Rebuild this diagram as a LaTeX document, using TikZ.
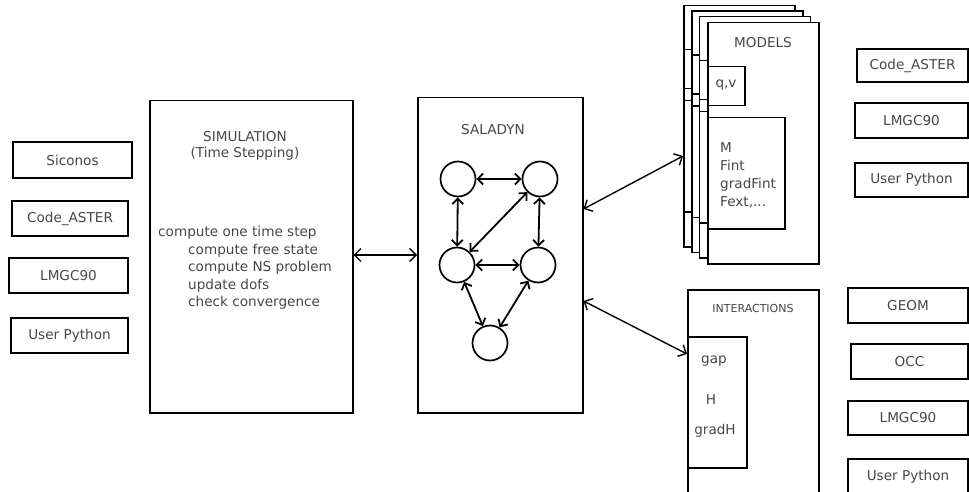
\documentclass[tikz,border=0pt]{standalone}
\usepackage{fontspec}
\setmainfont{DejaVu Sans}
\usetikzlibrary{arrows.meta}
\begin{document}
\begin{tikzpicture}[x=1pt,y=-1pt,
  box/.style={draw, line width=1.5pt, inner sep=0pt, fill=white},
  nwbox/.style={box, anchor=north west},
  lbl/.style={text=black!72, inner sep=0pt, font=\fontsize{13.6}{17.5}\selectfont},
  small/.style={text=black!72, inner sep=0pt, font=\fontsize{11}{13}\selectfont},
  tool/.style={box, lbl},
  dbl/.style={line width=1.4pt, {Straight Barb[length=6.5pt,width=13pt]}-{Straight Barb[length=6.5pt,width=13pt]}},
  gdbl/.style={line width=1.8pt, {Straight Barb[length=5.5pt,width=11pt]}-{Straight Barb[length=5.5pt,width=11pt]}},
  vert/.style={circle, draw, line width=1.7pt, minimum size=35pt, inner sep=0pt}]
\fill[white] (0,0) rectangle (969,492);
\useasboundingbox (0,0) rectangle (969,492);

% left tools
\node[tool, minimum width=119pt, minimum height=36pt] (siconos) at (72.5,160) {Siconos};
\node[tool, minimum width=116pt, minimum height=35pt] (astL) at (70,218.5) {Code\_ASTER};
\node[tool, minimum width=119pt, minimum height=35pt] (lmgcL) at (68.5,275.5) {LMGC90};
\node[tool, minimum width=117pt, minimum height=35pt] (pyL) at (69.5,335.5) {User Python};

% simulation
\node[nwbox, minimum width=203pt, minimum height=312pt] (sim) at (149,100) {};
\node[lbl, align=center, font=\fontsize{13.6}{15.5}\selectfont] (simt) at (245,146) {SIMULATION\\(Time Stepping)};
\node[lbl, align=left, anchor=west] (simlist) at (158,268) {compute one time step\\
\hspace*{30pt}compute free state\\
\hspace*{30pt}compute NS problem\\
\hspace*{30pt}update dofs\\
\hspace*{30pt}check convergence};

% saladyn
\node[nwbox, minimum width=165pt, minimum height=315pt] (sal) at (417,97) {};
\node[lbl] (salt) at (493,130) {SALADYN};
\node[vert] (va) at (458,179) {};
\node[vert] (vb) at (540,179) {};
\node[vert] (vc) at (457,265) {};
\node[vert] (vd) at (538,265) {};
\node[vert] (ve) at (490,343) {};
\draw[gdbl] (va) -- (vb);
\draw[gdbl] (va) -- (vc);
\draw[gdbl] (vb) -- (vd);
\draw[gdbl] (vb) -- (vc);
\draw[gdbl] (vc) -- (vd);
\draw[gdbl] (vc) -- (ve);
\draw[gdbl] (vd) -- (ve);

% models stack
\foreach \dx/\dy/\i in {-24/-17/1, -16/-11.5/2, -8.5/-6/3} {
  \begin{scope}[shift={(\dx,\dy)}]
    \node[nwbox, minimum width=111pt, minimum height=241pt] (mod\i) at (707,22) {};
    \node[nwbox, minimum width=37pt, minimum height=39pt] (qv\i) at (707,66) {};
    \node[nwbox, minimum width=77pt, minimum height=111pt] (mm\i) at (707,117) {};
  \end{scope}
}
\node[nwbox, minimum width=111pt, minimum height=241pt] (mod4) at (707,22) {};
\node[nwbox, minimum width=37pt, minimum height=39pt] (qv4) at (707,66) {};
\node[nwbox, minimum width=77pt, minimum height=111pt] (mm4) at (707,117) {};
\node[lbl] (modt) at (763,43) {MODELS};
\node[lbl] (qvt) at (726,85) {q,v};
\node[lbl, align=left, anchor=west, font=\fontsize{13.6}{18}\selectfont] (mmt) at (720,175) {M\\Fint\\gradFint\\Fext,...};

% interactions
\node[nwbox, minimum width=131pt, minimum height=240pt] (inter) at (687,289) {};
\node[small] (intt) at (753,308) {INTERACTIONS};
\node[nwbox, minimum width=59pt, minimum height=131pt] (gbox) at (687,336) {};
\node[lbl] (gapt) at (714,361) {gap};
\node[lbl] (ht) at (711,400) {H};
\node[lbl] (gradht) at (715,431) {gradH};

% right tools top
\node[tool, minimum width=111pt, minimum height=33pt] (astR) at (912.5,65.5) {Code\_ASTER};
\node[tool, minimum width=113pt, minimum height=35pt] (lmgcR) at (911.5,120.5) {LMGC90};
\node[tool, minimum width=113pt, minimum height=34pt] (pyR) at (911.5,180) {User Python};

% right tools bottom
\node[tool, minimum width=120pt, minimum height=35pt] (geom) at (908,305.5) {GEOM};
\node[tool, minimum width=117pt, minimum height=35pt] (occ) at (909.5,361.5) {OCC};
\node[tool, minimum width=120pt, minimum height=34pt] (lmgcB) at (908,418) {LMGC90};
\node[tool, minimum width=120pt, minimum height=36pt] (pyB) at (908,477) {User Python};

% connectors
\draw[dbl] (sim.east |- 0,255) -- (sal.west |- 0,255);
\draw[dbl] (sal.east |- 0,209) -- (mod1.west |- 0,156);
\draw[dbl] (sal.east |- 0,301) -- (inter.west |- 0,354);
\end{tikzpicture}
\end{document}
